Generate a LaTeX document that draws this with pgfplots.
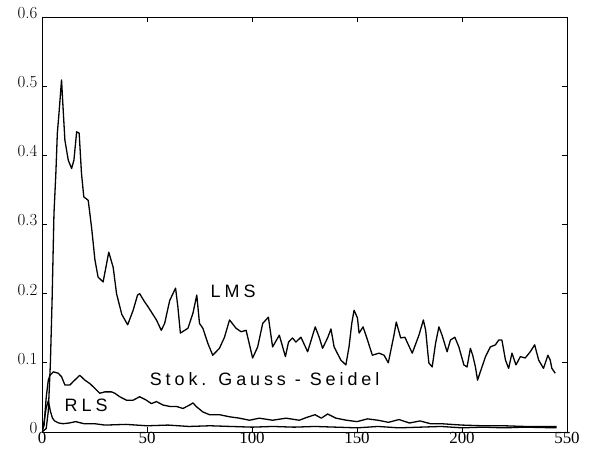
\documentclass[border=0pt]{standalone}
\usepackage{fontspec}
\usepackage{pgfplots}
\pgfplotsset{compat=1.18}
\newfontfamily\labelfont[LetterSpace=22]{Liberation Sans}
\newfontfamily\tickfont{Liberation Serif}

% Learning curves: mean squared error versus iteration
\pgfplotstableread{
x y
0 0
2 0.005
3 0.03
4 0.1
4.8 0.19
5.7 0.316
6.6 0.374
7.3 0.432
8.1 0.461
9.3 0.509
10.1 0.465
10.9 0.422
12.5 0.393
14.1 0.381
15.2 0.393
16.5 0.434
17.7 0.432
18.8 0.374
19.9 0.34
22 0.335
23.6 0.296
25.2 0.249
26.7 0.224
29.1 0.217
31.8 0.26
33.9 0.238
35.5 0.2
38 0.17
40.8 0.155
43.4 0.176
45.5 0.198
46.5 0.2
48.9 0.188
50.5 0.181
54.5 0.162
56.8 0.147
58.4 0.157
60.8 0.19
63.6 0.208
64.7 0.181
65.9 0.143
69.5 0.15
71.9 0.172
73.7 0.198
75 0.157
76.6 0.15
79 0.128
81.3 0.111
84.5 0.121
86.9 0.137
89.3 0.162
92.4 0.15
94.8 0.145
97.2 0.147
100.3 0.107
102.7 0.123
105.1 0.157
107.8 0.166
109.8 0.123
113 0.14
114.6 0.123
115.9 0.109
117.4 0.13
119.3 0.136
120.9 0.13
123.3 0.137
126.5 0.116
130.1 0.152
132 0.137
133.6 0.121
136 0.136
137.6 0.149
139.1 0.123
142.3 0.104
144.7 0.097
146.2 0.123
147.5 0.157
148.6 0.176
150.2 0.165
151 0.143
152.9 0.152
155 0.133
157.3 0.111
160.5 0.114
162.9 0.111
164.9 0.1
167.6 0.14
168.7 0.159
170.8 0.136
172.8 0.137
176.3 0.114
179.5 0.14
181.6 0.162
182.7 0.147
184.2 0.1
185.8 0.094
187.4 0.128
189 0.152
190.5 0.14
192.9 0.116
194.5 0.133
196.6 0.137
198.5 0.123
200.9 0.097
202.4 0.094
204 0.121
205.1 0.111
206.4 0.094
207.4 0.075
208.5 0.085
211.2 0.109
213.5 0.123
215.9 0.126
217.5 0.133
219 0.133
220.7 0.104
222.2 0.092
223.8 0.114
225.7 0.097
227.8 0.109
230.1 0.107
232.5 0.116
234.6 0.126
236.5 0.104
238.8 0.092
240.9 0.111
242 0.104
242.8 0.092
244.4 0.085
}\lms

\pgfplotstableread{
x y
0 0
1 0.01
2 0.05
3 0.075
3.8 0.082
5.4 0.087
7.7 0.085
9.3 0.08
10.9 0.068
13.3 0.068
14.9 0.073
18 0.082
20.4 0.075
22.8 0.07
25.2 0.063
27.5 0.056
29.9 0.058
33.1 0.058
34.7 0.056
37 0.051
40.2 0.046
43.4 0.046
46.5 0.051
49.7 0.046
52.1 0.041
54.5 0.044
57.6 0.039
60.8 0.037
64 0.037
67.1 0.034
70.3 0.039
71.9 0.042
73.4 0.037
76.6 0.029
79.8 0.025
84.5 0.025
89.3 0.022
94 0.02
98.8 0.017
103.5 0.02
109.8 0.017
116.2 0.02
122.5 0.017
126 0.021
130 0.025
133 0.02
136 0.026
140 0.02
145 0.017
150 0.015
155 0.019
160 0.017
165 0.014
170 0.018
175 0.013
180 0.016
185 0.012
190 0.012
200 0.01
210 0.009
220 0.009
230 0.008
245 0.008
}\gs

\pgfplotstableread{
x y
0 0
1 0.015
2 0.035
3 0.045
4 0.03
5 0.02
6 0.016
8 0.013
10 0.012
13 0.013
16 0.015
20 0.012
25 0.012
30 0.01
40 0.011
50 0.009
60 0.01
70 0.008
80 0.009
90 0.008
100 0.007
110 0.008
120 0.007
130 0.008
140 0.007
150 0.006
160 0.008
170 0.006
180 0.007
190 0.008
200 0.006
210 0.007
220 0.006
230 0.007
245 0.006
}\rls

\begin{document}
\begin{tikzpicture}
\begin{axis}[
  width=525bp, height=415bp, scale only axis,
  xmin=0, xmax=250, ymin=0, ymax=0.6,
  xtick={0,50,100,150,200,250},
  xticklabels={0,50,100,150,200,550},
  ytick={0,0.1,0.2,0.3,0.4,0.5,0.6},
  yticklabels={0,0.1,0.2,0.3,0.4,0.5,0.6},
  tick align=inside,
  major tick length=5bp,
  tick style={black, line width=0.8bp},
  axis line style={line width=0.9bp},
  xticklabel style={font=\tickfont\fontsize{17}{17}\selectfont, yshift=3bp},
  yticklabel style={font=\fontsize{17}{17}\selectfont, xshift=-1bp, yshift=4bp},
  curve/.style={black, no markers, line width=1.3bp, line join=round},
]
\addplot[curve] table[x=x, y=y] {\lms};
\addplot[curve] table[x=x, y=y] {\gs};
\addplot[curve] table[x=x, y=y] {\rls};
\node[font=\labelfont\fontsize{18}{18}\selectfont] at (axis cs:91,0.203) {LMS};
\node[font=\labelfont\fontsize{18}{18}\selectfont] at (axis cs:106,0.076) {Stok. Gauss - Seidel};
\node[font=\labelfont\fontsize{18}{18}\selectfont] at (axis cs:21,0.039) {RLS};
\end{axis}
\path (current axis.south west) +(-42bp,-24bp) (current axis.north east) +(28bp,17bp);
\end{tikzpicture}
\end{document}
